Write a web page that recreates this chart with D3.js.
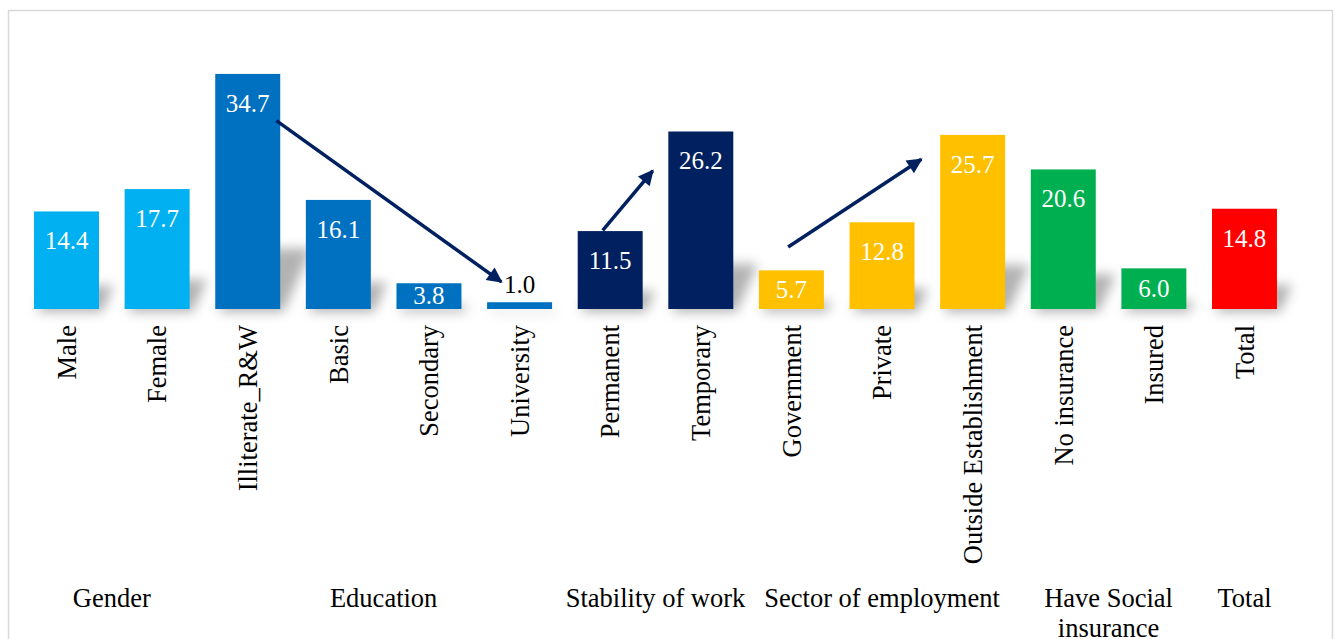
<!DOCTYPE html>
<html>
<head>
<meta charset="utf-8">
<script src="https://cdn.jsdelivr.net/npm/d3@7"></script>
<style>
  html, body { margin: 0; padding: 0; background: #fff; }
  svg { display: block; }
</style>
</head>
<body>
<svg id="chart" width="1335" height="639"></svg>
<script>
// Categories and their values (%)
const categories = ["Male", "Female", "Illiterate_R&W", "Basic", "Secondary", "University",
  "Permanent", "Temporary", "Government", "Private", "Outside Establishment",
  "No insurance", "Insured", "Total"];
const values = [14.4, 17.7, 34.7, 16.1, 3.8, 1.0, 11.5, 26.2, 5.7, 12.8, 25.7, 20.6, 6.0, 14.8];

// Grouping of the categories
const groupNames = ["Gender", "Education", "Stability of work", "Sector of employment", "Have Social insurance", "Total"];
const groupLines = [["Gender"], ["Education"], ["Stability of work"], ["Sector of employment"], ["Have Social", "insurance"], ["Total"]];
const groupIndex = [0, 0, 1, 1, 1, 1, 2, 2, 3, 3, 3, 4, 4, 5];
const groupColors = ["#00B0F0", "#0070C0", "#002060", "#FFC000", "#00B050", "#FF0000"];

// Trend arrows: [category, position within band, value] for start and end
const arrows = [
  { from: ["Illiterate_R&W", 0.94, 27.8], to: ["University", 0.22, 4.0] },
  { from: ["Permanent", 0.385, 11.6], to: ["Temporary", -0.24, 20.4] },
  { from: ["Government", 0.45, 9.15], to: ["Outside Establishment", -0.29, 22.1] }
];

const FONT = "'Liberation Serif', 'Times New Roman', serif";
const svg = d3.select("#chart");

// Outer frame
svg.append("rect")
  .attr("x", 8.5).attr("y", 10.5)
  .attr("width", 1324).attr("height", 660)
  .attr("fill", "#fff").attr("stroke", "#d9d9d9").attr("stroke-width", 1.5);

const x = d3.scaleBand()
  .domain(categories)
  .range([21.2, 1289.8])
  .paddingInner(0.283)
  .paddingOuter(0.1415);

const y = d3.scaleLinear().domain([0, 40]).range([309, 38]);

const data = categories.map((c, i) => ({ cat: c, value: values[i], group: groupIndex[i] }));
const bw = x.bandwidth();

// Blur for the perspective shadows
const defs = svg.append("defs");
defs.append("filter").attr("id", "shadowBlur")
  .attr("x", "-50%").attr("y", "-50%").attr("width", "200%").attr("height", "200%")
  .append("feGaussianBlur").attr("stdDeviation", 6);

const marker = defs.append("marker")
  .attr("id", "arrowHead")
  .attr("viewBox", "0 0 10 10")
  .attr("refX", 9).attr("refY", 5)
  .attr("markerWidth", 5.2).attr("markerHeight", 4.4)
  .attr("markerUnits", "strokeWidth")
  .attr("orient", "auto");
marker.append("path").attr("d", "M0,0 L10,5 L0,10 Z").attr("fill", "#002060");

// Shadows: each bar flattened and slanted to the upper right
const shadowScale = 0.27, slant = 0.45, drop = 3;
svg.append("g").attr("filter", "url(#shadowBlur)")
  .selectAll("path").data(data).join("path")
  .attr("d", d => {
    const x0 = x(d.cat) + 3, x1 = x0 + bw, base = y(0) + drop;
    const h = (y(0) - y(d.value)) * shadowScale;
    return `M${x0},${base} L${x1},${base} L${x1 + slant * h},${base - h} L${x0 + slant * h},${base - h} Z`;
  })
  .attr("fill", "#000").attr("opacity", 0.3);

// Bars
svg.append("g").selectAll("rect").data(data).join("rect")
  .attr("x", d => x(d.cat))
  .attr("y", d => y(d.value))
  .attr("width", bw)
  .attr("height", d => y(0) - y(d.value))
  .attr("fill", d => groupColors[d.group]);

// Value labels
svg.append("g").selectAll("text").data(data).join("text")
  .attr("x", d => x(d.cat) + bw / 2)
  .attr("y", d => {
    const top = y(d.value), h = y(0) - top;
    if (h < 15) return top - 9;
    if (h < 50) return top + h / 2 + 8;
    return top + 38;
  })
  .attr("text-anchor", "middle")
  .attr("font-family", FONT)
  .attr("font-size", 25)
  .attr("fill", d => (y(0) - y(d.value) < 15 ? "#000" : "#fff"))
  .text(d => d.value.toFixed(1));

// Arrows
const pt = p => [x(p[0]) + p[1] * bw, y(p[2])];
svg.append("g").selectAll("line").data(arrows).join("line")
  .attr("x1", d => pt(d.from)[0]).attr("y1", d => pt(d.from)[1])
  .attr("x2", d => pt(d.to)[0]).attr("y2", d => pt(d.to)[1])
  .attr("stroke", "#002060").attr("stroke-width", 3.5)
  .attr("marker-end", "url(#arrowHead)");

// Category labels (rotated)
svg.append("g").selectAll("text").data(data).join("text")
  .attr("transform", d => `translate(${x(d.cat) + bw / 2},325) rotate(-90)`)
  .attr("text-anchor", "end")
  .attr("dy", "0.35em")
  .attr("font-family", FONT)
  .attr("font-size", 26.5)
  .attr("fill", "#000")
  .text(d => d.cat);

// Group labels centred under their categories
const groupCenters = groupNames.map((g, gi) => {
  const cats = data.filter(d => d.group === gi);
  return d3.mean(cats, d => x(d.cat) + bw / 2);
});
const gl = svg.append("g").selectAll("text").data(groupNames).join("text")
  .attr("x", (g, i) => groupCenters[i])
  .attr("y", 607)
  .attr("text-anchor", "middle")
  .attr("font-family", FONT)
  .attr("font-size", 26.5)
  .attr("fill", "#000");
gl.selectAll("tspan").data((g, i) => groupLines[i]).join("tspan")
  .attr("x", function () { return d3.select(this.parentNode).attr("x"); })
  .attr("dy", (l, j) => (j === 0 ? 0 : 30))
  .text(l => l);
</script>
</body>
</html>
